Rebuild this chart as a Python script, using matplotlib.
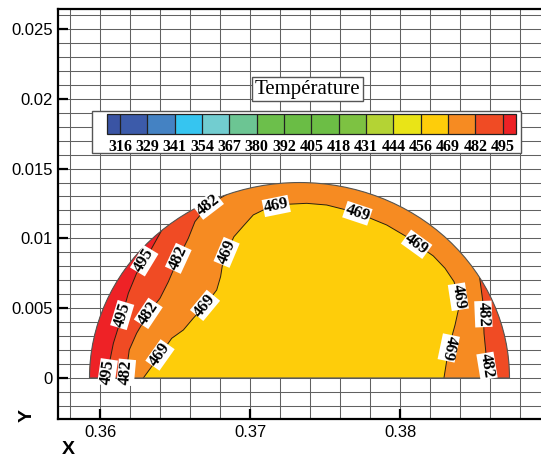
import numpy as np
import matplotlib
matplotlib.use("Agg")
import matplotlib.pyplot as plt
from matplotlib.patches import Polygon, Wedge, Rectangle
from matplotlib.colors import ListedColormap, BoundaryNorm
from matplotlib.cm import ScalarMappable
from matplotlib.ticker import MultipleLocator, FuncFormatter

# contour levels and band colours (under, 14 bands, over)
levels = [316, 329, 341, 354, 367, 380, 392, 405, 418, 431, 444, 456, 469, 482, 495]
band_colors = ['#3A54A4', '#3C5BAA', '#4482C3', '#36C5F0', '#72CDD0', '#6CC593',
               '#6CBF4B', '#6ABD45', '#6CBE45', '#7DC242', '#B4D334', '#E9E417',
               '#FECD0A', '#F68B22', '#F04B24', '#EE2226']

# droplet outline (semicircle)
drop_xc, drop_r = 0.3733, 0.0140

# isolines (x, y)
line_495_left = [(0.36056, 0.0), (0.36050, 0.0004), (0.36089, 0.00248), (0.36148, 0.00451),
                 (0.36189, 0.00607), (0.36244, 0.00750), (0.36295, 0.00840), (0.36340, 0.00920),
                 (0.36400, 0.01036), (0.36460, 0.01152)]
line_482_left = [(0.36178, 0.0), (0.36175, 0.0004), (0.36195, 0.00201), (0.36244, 0.00320),
                 (0.36322, 0.00463), (0.36400, 0.00571), (0.36456, 0.00690), (0.36522, 0.00857),
                 (0.36589, 0.01001), (0.36633, 0.01120), (0.36722, 0.01239), (0.36950, 0.01380)]
line_469 = [(0.36289, 0.0), (0.36344, 0.00081), (0.36400, 0.00165), (0.36478, 0.00284),
            (0.36556, 0.00344), (0.36622, 0.00428), (0.36700, 0.00520), (0.36778, 0.00630),
            (0.36804, 0.00726), (0.36818, 0.00821), (0.36844, 0.00900), (0.36893, 0.01012),
            (0.36956, 0.01089), (0.37022, 0.01168), (0.37111, 0.01215), (0.37175, 0.01232),
            (0.37244, 0.01244), (0.37378, 0.01251), (0.37511, 0.01239), (0.37644, 0.01203),
            (0.37716, 0.01180), (0.37778, 0.01155), (0.37911, 0.01096), (0.38044, 0.01012),
            (0.38111, 0.00958), (0.38222, 0.00874), (0.38300, 0.00786), (0.38360, 0.00690),
            (0.38389, 0.00582), (0.38389, 0.00487), (0.38367, 0.00380), (0.38325, 0.00215),
            (0.38293, 0.0)]
line_482_right = [(0.38505, 0.0092), (0.38533, 0.00702), (0.38551, 0.00559), (0.38556, 0.00458),
                  (0.38560, 0.00320), (0.38573, 0.00177), (0.38580, 0.00086), (0.38600, 0.0)]

# where the level labels sit: (line, vertex index)
label_spots = [('495L', 1), ('495L', 3), ('495L', 6),
               ('482L', 1), ('482L', 4), ('482L', 7), ('482L', 10),
               ('469', 2), ('469', 6), ('469', 10), ('469', 15), ('469', 20),
               ('469', 24), ('469', 28), ('469', 31),
               ('482R', 3), ('482R', 6)]

xticks = [0.36, 0.37, 0.38]
yticks = [0, 0.005, 0.01, 0.015, 0.02, 0.025]

lines = {'495L': (line_495_left, '495'), '482L': (line_482_left, '482'),
         '469': (line_469, '469'), '482R': (line_482_right, '482')}

plt.rcParams['font.family'] = ['Liberation Sans', 'DejaVu Sans']

fig = plt.figure(figsize=(5.41, 4.59), dpi=100)
ax = fig.add_axes([58.3 / 541, 1 - 419.3 / 459, 0.9366, (419.3 - 9) / 459])
ax.set_xlim(0.35722, 0.391)
ax.set_ylim(-0.00296, 0.02643)

ax.xaxis.set_minor_locator(MultipleLocator(0.002))
ax.yaxis.set_minor_locator(MultipleLocator(0.001))
ax.set_xticks(xticks)
ax.set_yticks(yticks)
fmt = FuncFormatter(lambda v, _: f'{v:g}')
ax.xaxis.set_major_formatter(fmt)
ax.yaxis.set_major_formatter(fmt)
ax.set_axisbelow(True)
ax.grid(which='both', color='0.38', lw=0.75)
ax.tick_params(which='major', direction='in', length=7.5, width=1.6, labelsize=12, pad=4)
ax.tick_params(which='minor', length=0)
for s in ['left', 'bottom', 'top']:
    ax.spines[s].set_linewidth(1.6)
ax.spines['right'].set_visible(False)

cmap = ListedColormap(band_colors[1:-1])
cmap.set_under(band_colors[0])
cmap.set_over(band_colors[-1])
norm = BoundaryNorm(levels, cmap.N)

def band(v):
    return cmap(norm(v))

# droplet: base band then outer bands, clipped to the outline
base = Wedge((drop_xc, 0), drop_r, 0, 180, facecolor=band(462), edgecolor='none', zorder=2)
ax.add_patch(base)

lo, hi, top = 0.354, 0.393, 0.02
regions = [
    (line_469 + [(hi, 0), (hi, top), (lo, top), (lo, 0)], band(475)),
    (line_482_left + [(lo, line_482_left[-1][1]), (lo, 0)], band(488)),
    (line_495_left + [(lo, line_495_left[-1][1]), (lo, 0)], band(500)),
    (line_482_right + [(hi, 0), (hi, line_482_right[0][1])], band(488)),
]
for pts, col in regions:
    p = Polygon(pts, closed=True, facecolor=col, edgecolor='none', zorder=3)
    ax.add_patch(p)
    p.set_clip_path(base)

for key, (pts, txt) in lines.items():
    xs, ys = zip(*pts)
    ln, = ax.plot(xs, ys, color='#2b2010', lw=0.7, zorder=4)
    ln.set_clip_path(base)

outline = Wedge((drop_xc, 0), drop_r, 0, 180, facecolor='none', edgecolor='#555555',
                lw=0.8, zorder=4)
ax.add_patch(outline)

for key, i in label_spots:
    pts, txt = lines[key]
    p0 = ax.transData.transform(pts[i - 1])
    p1 = ax.transData.transform(pts[i + 1])
    ang = np.degrees(np.arctan2(p1[1] - p0[1], p1[0] - p0[0]))
    ax.text(pts[i][0], pts[i][1], txt, rotation=ang, rotation_mode='anchor',
            ha='center', va='center', fontsize=12, fontweight='bold',
            family='Liberation Serif', zorder=6,
            bbox=dict(facecolor='white', edgecolor='none', pad=0.5))

# legend box
fig.add_artist(Rectangle((91.7 / 541, 1 - 152.7 / 459), 429 / 541, 42 / 459,
                         transform=fig.transFigure, facecolor='white',
                         edgecolor='#555555', lw=1.0, zorder=1))
cax = fig.add_axes([106.7 / 541, 1 - 134 / 459, 409.3 / 541, 20 / 459])
cax.set_zorder(3)
sm = ScalarMappable(norm=norm, cmap=cmap)
cb = fig.colorbar(sm, cax=cax, orientation='horizontal', extend='both',
                  extendrect=True, extendfrac=0.035, drawedges=True, ticks=levels)
cb.outline.set_edgecolor('#222222')
cb.outline.set_linewidth(0.9)
cb.dividers.set_color('#222222')
cb.dividers.set_linewidth(0.9)
cb.ax.tick_params(length=0, pad=3.5)
for t in cb.ax.get_xticklabels():
    t.set_fontfamily('Liberation Serif')
    t.set_fontweight('bold')
    t.set_fontsize(11.5)

fig.text(307.2 / 541, 1 - 89.3 / 459, 'Température', ha='center', va='center',
         fontsize=15, family='Liberation Serif', zorder=4,
         bbox=dict(facecolor='white', edgecolor='#555555', lw=1.0, pad=1.8))

fig.text(68 / 541, 1 - 449 / 459, 'X', ha='center', va='center', fontsize=14,
         fontweight='bold')
fig.text(27 / 541, 1 - 416 / 459, 'Y', ha='center', va='center', fontsize=14,
         fontweight='bold', rotation=90)

fig.savefig('out.png', dpi=100)
